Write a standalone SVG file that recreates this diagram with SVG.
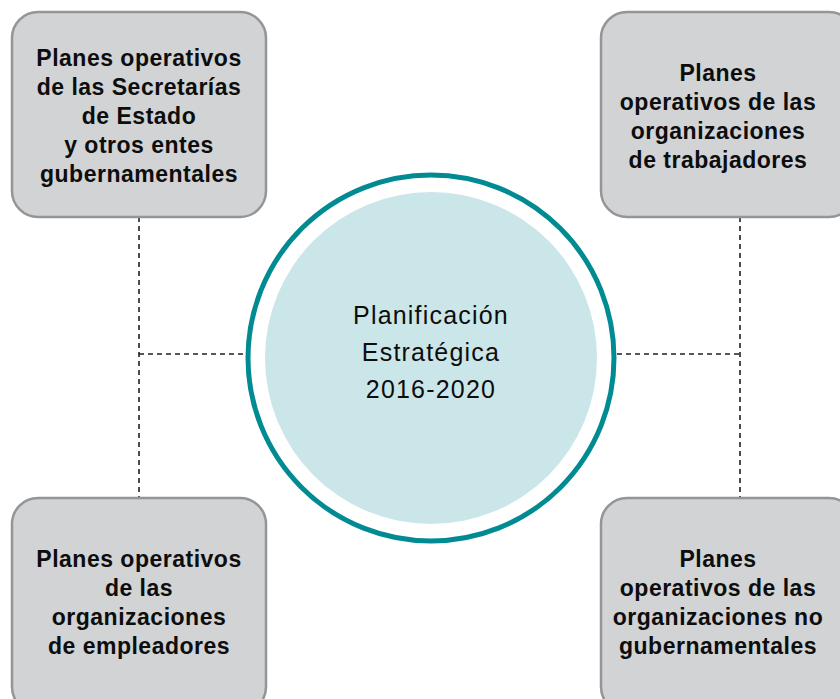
<svg xmlns="http://www.w3.org/2000/svg" width="840" height="699" viewBox="0 0 840 699">
<style>
.box{fill:#D1D3D4;stroke:#939598;stroke-width:2.5}
.bt{font-family:"Liberation Sans",Arial,sans-serif;font-weight:bold;font-size:23px;letter-spacing:0.5px;fill:#0d0d0d;text-anchor:middle}
.ct{font-family:"Liberation Sans",Arial,sans-serif;font-size:25px;letter-spacing:1.2px;fill:#0d0d0d;text-anchor:middle}
.dash{fill:none;stroke:#231F20;stroke-width:1.6;stroke-dasharray:5 4}
</style>
<rect width="840" height="699" fill="#fff"/>
<g id="connectors">
<path class="dash" d="M139 217 V498 M139 354 H247"/>
<path class="dash" d="M740 217 V498 M617 354 H740"/>
</g>
<g id="center">
<circle cx="431" cy="358" r="183" fill="#fff" stroke="#008B93" stroke-width="5"/>
<circle cx="431" cy="358" r="166" fill="#CBE6E9"/>
<text class="ct" x="431" y="324">Planificación</text>
<text class="ct" x="431" y="361">Estratégica</text>
<text class="ct" x="431" y="398">2016-2020</text>
</g>
<g id="node-tl">
<rect class="box" x="12" y="12" width="254" height="205" rx="26"/>
<text class="bt" x="139" y="66">Planes operativos</text>
<text class="bt" x="139" y="95">de las Secretarías</text>
<text class="bt" x="139" y="124">de Estado</text>
<text class="bt" x="139" y="153">y otros entes</text>
<text class="bt" x="139" y="182">gubernamentales</text>
</g>
<g id="node-tr">
<rect class="box" x="601" y="12" width="254" height="205" rx="26"/>
<text class="bt" x="718" y="81">Planes</text>
<text class="bt" x="718" y="110">operativos de las</text>
<text class="bt" x="718" y="139">organizaciones</text>
<text class="bt" x="718" y="168">de trabajadores</text>
</g>
<g id="node-bl">
<rect class="box" x="12" y="498" width="254" height="215" rx="26"/>
<text class="bt" x="139" y="567">Planes operativos</text>
<text class="bt" x="139" y="596">de las</text>
<text class="bt" x="139" y="625">organizaciones</text>
<text class="bt" x="139" y="654">de empleadores</text>
</g>
<g id="node-br">
<rect class="box" x="601" y="498" width="254" height="215" rx="26"/>
<text class="bt" x="718" y="567">Planes</text>
<text class="bt" x="718" y="596">operativos de las</text>
<text class="bt" x="718" y="625">organizaciones no</text>
<text class="bt" x="718" y="654">gubernamentales</text>
</g>
</svg>
